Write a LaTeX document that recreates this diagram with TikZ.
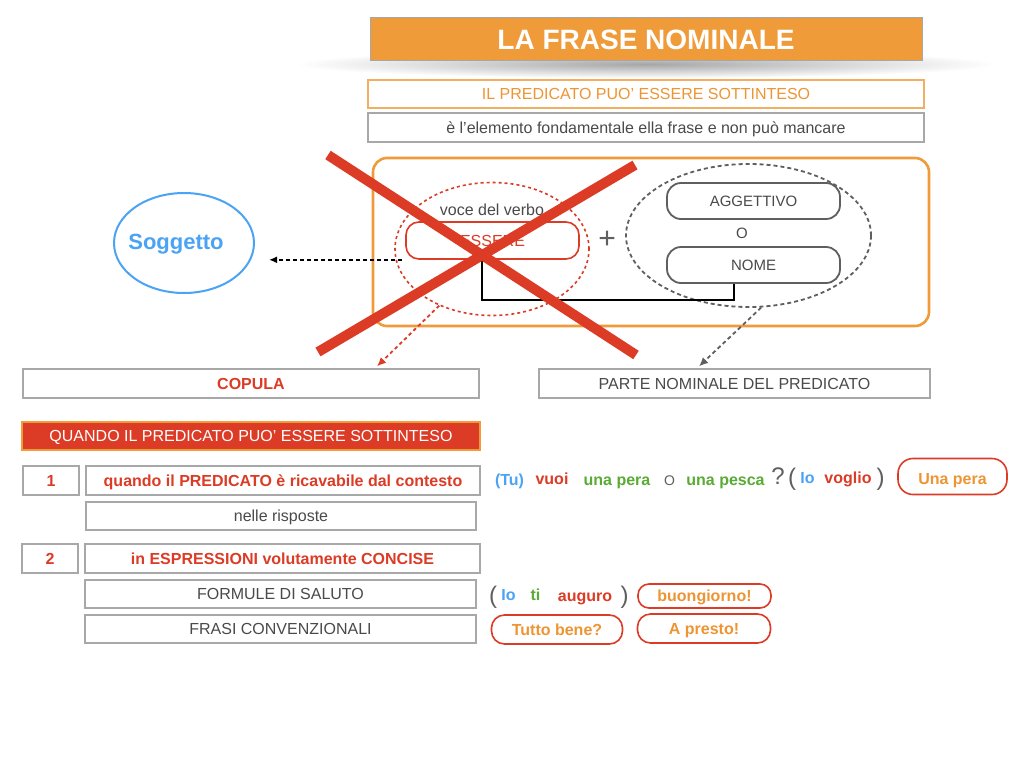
\documentclass[tikz,border=0pt]{standalone}
\usepackage{fontspec}
\setmainfont{Liberation Sans}
\usetikzlibrary{shapes.geometric,arrows.meta,calc}
\definecolor{orng}{HTML}{EF9B3A}
\definecolor{ortxt}{HTML}{EE9533}
\definecolor{redc}{HTML}{DC3B26}
\definecolor{bluec}{HTML}{4AA3F4}
\definecolor{greenc}{HTML}{5AAB35}
\definecolor{grtxt}{HTML}{4A4A4A}
\definecolor{boxgr}{HTML}{A8A8A8}
\definecolor{dgray}{HTML}{5F5F5F}
\begin{document}
\begin{tikzpicture}[x=1pt,y=-1pt,
  fs/.style={font=\fontsize{#1}{#1}\selectfont},
  fb/.style={font=\bfseries\fontsize{#1}{#1}\selectfont},
  f16/.style={font=\fontsize{16}{19}\selectfont, text height=11.5pt, text depth=0pt},
  b16/.style={font=\bfseries\fontsize{16}{19}\selectfont, text height=11.5pt, text depth=0pt},
  f15/.style={font=\fontsize{15}{18}\selectfont, text height=10.8pt, text depth=0pt},
  box/.style={draw=boxgr, line width=1.3pt, fill=white, inner sep=0pt},
  pill/.style={draw=redc, line width=1.6pt, rounded corners=13pt, inner sep=0pt, fill=white},
  gpill/.style={draw=dgray, line width=1.8pt, rounded corners=14pt, inner sep=0pt},
  txt/.style={inner sep=0pt},
  dash1/.style={dash pattern=on 4pt off 3pt, line width=1.6pt},
]
\useasboundingbox (0,0) rectangle (1024,768);
\fill[white] (0,0) rectangle (1024,768);

% title with shadow
\shade[inner color=black!35, outer color=white] (646,64) ellipse (350 and 14);
\node[fill=orng, draw=gray!70, line width=1pt, minimum width=552pt, minimum height=42pt, inner sep=0pt,
      text=white, font=\bfseries\fontsize{28}{32}\selectfont, text height=20pt, text depth=0pt] (title) at (646,39) {LA FRASE NOMINALE};
\node[draw=orng!80, line width=1.2pt, fill=white, minimum width=556pt, minimum height=28pt, inner sep=0pt,
      text=ortxt, f16] (sub1) at (646,94) {IL PREDICATO PUO’ ESSERE SOTTINTESO};
\node[box, minimum width=556pt, minimum height=29pt, text=grtxt, f16] (sub2) at (646,127.5)
      {è l’elemento fondamentale ella frase e non può mancare};

% frame
\node[draw=orng, line width=2.6pt, rounded corners=14pt, minimum width=556pt, minimum height=168pt] (frame) at (651,242) {};

% red dashed ellipse
\node[ellipse, draw=redc, dash pattern=on 3pt off 3pt, line width=1.6pt, minimum width=194pt, minimum height=133pt, inner sep=0pt] (redell) at (492,249) {};
\node[txt, text=grtxt, f16] (voce) at (492,210) {voce del verbo};
\node[pill, minimum width=173pt, minimum height=37pt, fill=none, text=redc, f16] (essere) at (492.5,240.5) {ESSERE};
\node[txt, text=dgray, fs=30] (plus) at (607,240) {+};

% gray dashed ellipse
\node[ellipse, draw=dgray, dash pattern=on 4pt off 3pt, line width=1.8pt, minimum width=245pt, minimum height=143pt, inner sep=0pt] (grayell) at (748.5,235.5) {};
\node[gpill, minimum width=173pt, minimum height=36pt, text=grtxt, f15] (agg) at (753.5,201) {AGGETTIVO};
\node[txt, text=grtxt, f15] (oo) at (742,233) {O};
\node[gpill, minimum width=173pt, minimum height=36pt, text=grtxt, f15] (nome) at (753.5,265) {NOME};

% connector ESSERE -- NOME
\coordinate (c1) at (482,300);
\coordinate (c2) at (734,300);
\draw[black, line width=1.8pt] (essere.south -| c1) -- (c1) -| (nome.south -| c2);

% Soggetto
\node[ellipse, draw=bluec, line width=2pt, minimum width=140pt, minimum height=100pt, inner sep=0pt] (sogg) at (184,243) {};
\node[txt, text=bluec, font=\bfseries\fontsize{22}{26}\selectfont, text height=16pt, text depth=0pt] (soggt) at (176,241) {Soggetto};
\draw[dash1, black, -{Latex[length=8pt,width=7pt]}] ([xshift=-3pt]essere.south west) -- ([xshift=14pt]sogg.east |- essere.south west);

% lower boxes
\node[box, minimum width=456pt, minimum height=29pt, text=redc, b16] (copula) at (251,383.5) {COPULA};
\node[box, minimum width=391pt, minimum height=29pt, text=grtxt, f16] (parte) at (734.5,383.5) {PARTE NOMINALE DEL PREDICATO};

\draw[redc, dash pattern=on 3.5pt off 3pt, line width=1.8pt, -{Latex[length=9pt,width=8pt]}] (redell.-133) -- ([xshift=126pt,yshift=2pt]copula.north);
\draw[dgray, dash pattern=on 4pt off 3pt, line width=1.8pt, -{Latex[length=9pt,width=8pt]}] (grayell.-80) -- ([xshift=-35.5pt,yshift=2pt]parte.north);

\node[fill=redc, draw=orng, line width=1.2pt, minimum width=458pt, minimum height=28pt, inner sep=0pt, text=white, f16] (quando) at (251,436) {QUANDO IL PREDICATO PUO’ ESSERE SOTTINTESO};

\node[box, minimum width=56pt, minimum height=29pt, text=redc, b16] (one) at (51,480.5) {1};
\node[box, minimum width=394pt, minimum height=29pt, text=redc, b16] (q1) at (283,480.5) {quando il PREDICATO è ricavabile dal contesto};
\node[box, minimum width=390pt, minimum height=28pt, text=grtxt, f16] (nelle) at (281,516) {nelle risposte};
\node[box, minimum width=56pt, minimum height=29pt, text=redc, b16] (two) at (50,558.5) {2};
\node[box, minimum width=395pt, minimum height=29pt, text=redc, b16] (q2) at (282.5,558.5) {in ESPRESSIONI volutamente CONCISE};
\node[box, minimum width=391pt, minimum height=28pt, text=grtxt, f16] (formule) at (280.5,594) {FORMULE DI SALUTO};
\node[box, minimum width=391pt, minimum height=28pt, text=grtxt, f16] (frasi) at (280.5,629) {FRASI CONVENZIONALI};

% example sentence 1
\node[txt, text=bluec, b16] (tu) at (509.5,479.5) {(Tu)};
\node[txt, text=redc, b16] (vuoi) at (552,479) {vuoi};
\node[txt, text=greenc, b16] (pera) at (617,479.5) {una pera};
\node[txt, text=dgray, font=\fontsize{14}{16}\selectfont, text height=10pt, text depth=0pt] (o2) at (669.5,480) {O};
\node[txt, text=greenc, b16] (pesca) at (725.5,479.5) {una pesca};
\node[txt, text=dgray, fs=24] (qm) at (778,476) {?};
\node[txt, text=dgray, fs=24] (lp1) at (792,479) {(};
\node[txt, text=bluec, b16] (io1) at (807.5,478) {Io};
\node[txt, text=redc, b16] (voglio) at (848,478) {voglio};
\node[txt, text=dgray, fs=24] (rp1) at (880.5,479) {)};
\node[pill, minimum width=109pt, minimum height=36pt, rounded corners=15pt, text=ortxt, b16] (unapera) at (952.5,476.5) {\raisebox{-2pt}{Una pera}};

% example sentence 2
\node[txt, text=dgray, fs=24] (lp2) at (493,597) {(};
\node[txt, text=bluec, b16] (io2) at (508.5,595) {Io};
\node[txt, text=greenc, b16] (ti) at (535.5,595) {ti};
\node[txt, text=redc, b16] (auguro) at (585,596) {auguro};
\node[txt, text=dgray, fs=24] (rp2) at (624.5,597) {)};
\node[pill, minimum width=133pt, minimum height=24pt, rounded corners=11pt, text=ortxt, b16] (buon) at (704.5,596) {buongiorno!};
\node[pill, minimum width=131pt, minimum height=29pt, text=ortxt, b16] (tutto) at (557,629.5) {Tutto bene?};
\node[pill, minimum width=133pt, minimum height=29pt, text=ortxt, b16] (presto) at (704,628.5) {A presto!};

% red cross
\coordinate (x1a) at (328,155);
\coordinate (x1b) at (636,355);
\coordinate (x2a) at (318,352);
\coordinate (x2b) at (635,165);
\draw[redc, line width=10pt] (x1a) -- (x1b);
\draw[redc, line width=10pt] (x2a) -- (x2b);
\end{tikzpicture}
\end{document}
